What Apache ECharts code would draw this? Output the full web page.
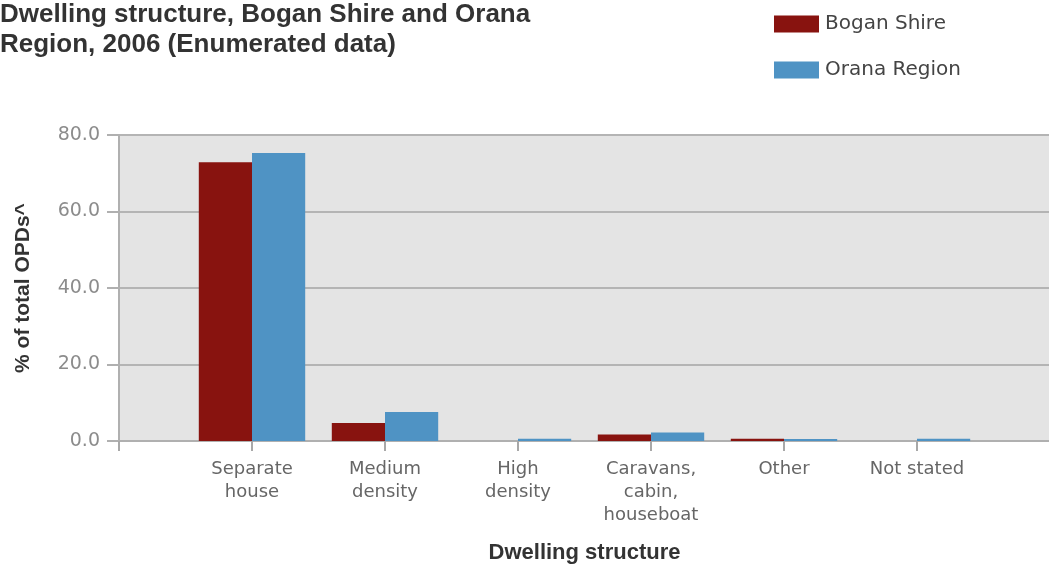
<!DOCTYPE html>
<html><head><meta charset="utf-8">
<script src="https://cdn.jsdelivr.net/npm/echarts@6/dist/echarts.min.js"></script>
<style>html,body{margin:0;padding:0;background:#fff;overflow:hidden}#c{width:1049px;height:565px}</style>
</head><body><div id="c"></div>
<script>
const categories = ['', 'Separate\nhouse', 'Medium\ndensity', 'High\ndensity', 'Caravans,\ncabin,\nhouseboat', 'Other', 'Not stated', ''];
const boganShire = [null, 72.9, 4.7, 0.0, 1.7, 0.6, 0.0, null];
const oranaRegion = [null, 75.3, 7.6, 0.6, 2.2, 0.5, 0.6, null];
const yTicks = [0, 20, 40, 60, 80];

const chart = echarts.init(document.getElementById('c'));
chart.setOption({
  animation: false,
  textStyle: {fontFamily: 'Liberation Sans, Arial, sans-serif'},
  title: {
    text: 'Dwelling structure, Bogan Shire and Orana\nRegion, 2006 (Enumerated data)',
    left: 0, top: 0, padding: 0,
    textStyle: {fontSize: 26, fontWeight: 'bold', color: '#333', lineHeight: 30, fontFamily: 'Liberation Sans, Arial, sans-serif'}
  },
  legend: {
    orient: 'vertical', left: 769, top: 9,
    itemWidth: 45, itemHeight: 17, itemGap: 26,
    icon: 'rect',
    textStyle: {fontSize: 20, color: '#444', fontFamily: 'DejaVu Sans', padding: [0, 0, 0, 1]},
    data: ['Bogan Shire', 'Orana Region']
  },
  grid: {left: 119, right: -1, top: 135, bottom: 124, outerBoundsMode: 'none', show: true, backgroundColor: '#e4e4e4', borderWidth: 0},
  xAxis: {
    type: 'category', data: categories, boundaryGap: false,
    name: 'Dwelling structure', nameLocation: 'middle', nameGap: 101,
    nameTextStyle: {fontSize: 22, fontWeight: 'bold', color: '#333'},
    axisLine: {lineStyle: {color: '#b0b0b0', width: 2}},
    axisTick: {show: true, length: 10, lineStyle: {color: '#a8a8a8', width: 2}, alignWithLabel: true},
    axisLabel: {fontSize: 18, color: '#666', lineHeight: 23, margin: 17, interval: 0, fontFamily: 'DejaVu Sans'},
    splitLine: {show: false}
  },
  yAxis: {
    type: 'value', min: yTicks[0], max: yTicks[yTicks.length - 1], interval: 20,
    name: '% of total OPDs^', nameLocation: 'middle', nameGap: 85, nameRotate: 90,
    nameTextStyle: {fontSize: 21, fontWeight: 'bold', color: '#333'},
    axisLine: {show: true, lineStyle: {color: '#b0b0b0', width: 2}},
    axisTick: {show: true, length: 12, lineStyle: {color: '#b0b0b0', width: 2}},
    axisLabel: {fontSize: 19, color: '#8c8c8c', margin: 19, fontFamily: 'DejaVu Sans', formatter: v => v.toFixed(1)},
    splitLine: {show: true, lineStyle: {color: '#b4b4b4', width: 2}}
  },
  series: [
    {name: 'Bogan Shire', type: 'bar', data: boganShire, barGap: '0%', barCategoryGap: '20%', itemStyle: {color: '#88130f'}},
    {name: 'Orana Region', type: 'bar', data: oranaRegion, barGap: '0%', barCategoryGap: '20%', itemStyle: {color: '#4f93c4'}}
  ]
});
</script></body></html>
